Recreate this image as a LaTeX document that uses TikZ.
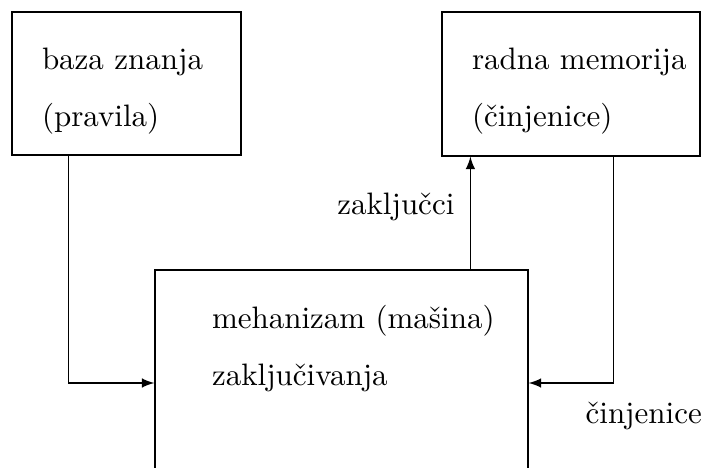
\documentclass[tikz,border=0pt]{standalone}
\usepackage{tikz}
\usetikzlibrary{calc}

\begin{document}
\begin{tikzpicture}[x=0.3226pt,y=-0.3226pt,>=latex,
	box/.style={draw,inner sep=0pt},
	box_text/.style={anchor=base west,inner sep=0pt}]
	\newcommand{\px}{0.3226pt}
	\newcommand{\lineSkip}{57}
	\clip (0,0) rectangle (704,468);

	% boxes
	\node[box,minimum width=229*\px,minimum height=143*\px] (kb) at (126.5,83.5) {};
	\node[box,minimum width=258*\px,minimum height=144*\px] (wm) at (571,84) {};
	\node[box,minimum width=373*\px,minimum height=226*\px] (engine) at (341.5,383) {};

	% texts in the boxes
	\node[box_text] (kb_first) at ($(kb.north west)+(30,58)$) {baza znanja};
	\node[box_text] (kb_second) at ($(kb_first.base west)+(0,\lineSkip)$) {(pravila)};
	\node[box_text] (wm_first) at ($(wm.north west)+(30,58)$) {radna memorija};
	\node[box_text] (wm_second) at ($(wm_first.base west)+(0,\lineSkip)$) {(činjenice)};
	\node[box_text] (engine_first) at ($(engine.north west)+(57,59)$) {mehanizam (mašina)};
	\node[box_text] (engine_second) at ($(engine_first.base west)+(0,\lineSkip)$) {zaključivanja};

	% connectors
	\coordinate (kb_out) at ($(kb.south west)+(57,0)$);
	\coordinate (wm_in) at ($(wm.south west)+(29,0)$);
	\coordinate (wm_out) at ($(wm.south west)+(172,0)$);
	\draw[->] (kb_out) |- (engine.west);
	\draw[->] (wm_out) |- (engine.east);
	\draw[->] (engine.north -| wm_in) -- (wm_in);

	% connector labels
	\node[box_text,anchor=base east] (concl_label) at (455,215) {zaključci};
	\node[box_text] (facts_label) at (585,423) {činjenice};
\end{tikzpicture}
\end{document}
